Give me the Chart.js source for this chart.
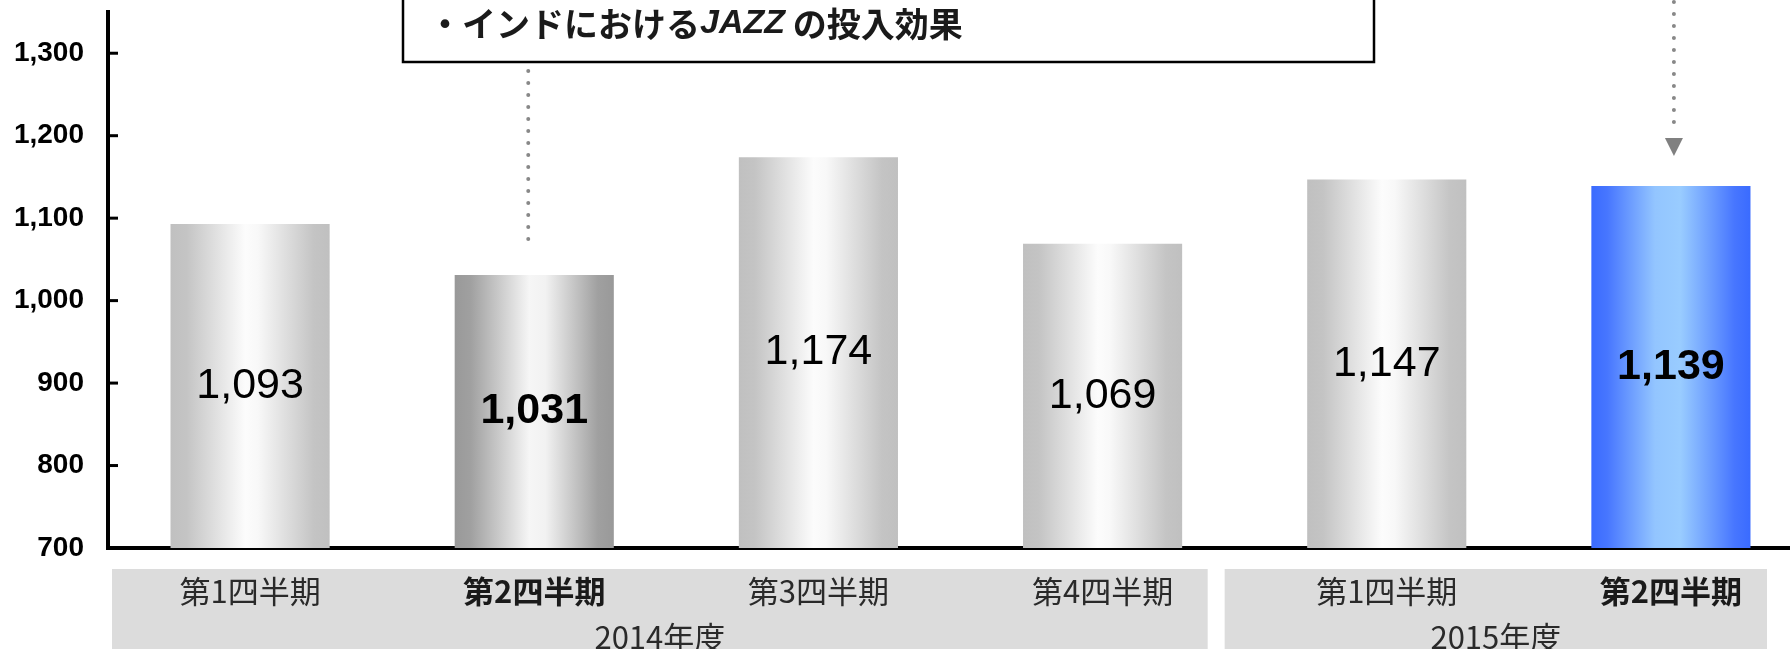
<!DOCTYPE html>
<html>
<head>
<meta charset="utf-8">
<script src="https://cdn.jsdelivr.net/npm/chart.js@4.4.1/dist/chart.umd.min.js"></script>
<style>
    html, body { margin: 0; padding: 0; background: #fff; overflow: hidden; }
    #wrap { position: absolute; left: 0; top: 0; width: 1816px; height: 649px; }
</style>
</head>
<body>
<div id="wrap"><canvas id="chart" width="1816" height="649"></canvas></div>
<script>
// data
const quarters = ['第1四半期', '第2四半期', '第3四半期', '第4四半期', '第1四半期', '第2四半期'];
const values = [1093, 1031, 1174, 1069, 1147, 1139];
const fiscalYears = ['2014年度', '2015年度'];
const yTicks = [700, 800, 900, 1000, 1100, 1200, 1300];
const calloutParts = ['・インドにおける', 'JAZZ', ' の投入効果'];
const emphasized = [1, 5];

const JP = '"Noto Sans CJK JP", "Noto Sans", sans-serif';
const LAT = '"Liberation Sans", Arial, sans-serif';
const BAR_PCT = 0.56;

// gradient stops for each bar look
const silver = [[0, '#c0c0c0'], [0.1, '#c4c4c4'], [0.47, '#fcfcfc'], [0.55, '#f8f8f8'], [0.9, '#c4c4c4'], [1, '#c0c0c0']];
const darkSilver = [[0, '#999999'], [0.1, '#a0a0a0'], [0.47, '#f6f6f6'], [0.57, '#f2f2f2'], [0.9, '#a0a0a0'], [1, '#999999']];
const blue = [[0, '#3a6bff'], [0.1, '#4776ff'], [0.4, '#93c5ff'], [0.56, '#99ccff'], [0.9, '#4776ff'], [1, '#3a6bff']];

function stopsFor(i) {
    if (i === 1) return darkSilver;
    if (i === 5) return blue;
    return silver;
}

function barFill(context) {
    const chart = context.chart;
    const area = chart.chartArea;
    const i = context.dataIndex;
    if (!area || i === undefined) return '#c0c0c0';
    const x = chart.scales.x;
    const cx = x.getPixelForValue(i);
    const half = (area.width / quarters.length) * BAR_PCT / 2;
    const g = chart.ctx.createLinearGradient(cx - half, 0, cx + half, 0);
    for (const [o, c] of stopsFor(i)) {
        g.addColorStop(o, c);
    }
    return g;
}

function dotted(ctx, x, y1, y2) {
    ctx.save();
    ctx.strokeStyle = '#888888';
    ctx.lineWidth = 4;
    ctx.lineCap = 'round';
    ctx.setLineDash([0, 12]);
    ctx.beginPath();
    ctx.moveTo(x, y1);
    ctx.lineTo(x, y2);
    ctx.stroke();
    ctx.restore();
}

const overlay = {
    id: 'overlay',
    beforeDraw(chart) {
        const ctx = chart.ctx;
        const x = chart.scales.x;
        const cw = (x.right - x.left) / quarters.length;
        const b = i => x.left + i * cw;
        ctx.save();
        ctx.fillStyle = '#dcdcdc';
        ctx.fillRect(b(0) + 4, 569, b(4) - 37 - (b(0) + 4), 80);
        ctx.fillRect(b(4) - 20, 569, b(6) - 46 - (b(4) - 20), 80);
        ctx.fillStyle = '#2a2a2a';
        ctx.font = '31px ' + JP;
        ctx.textAlign = 'center';
        ctx.textBaseline = 'middle';
        ctx.fillText(fiscalYears[0], (b(0) + 4 + b(4) - 37) / 2, 637);
        ctx.fillText(fiscalYears[1], (b(4) - 20 + b(6) - 46) / 2, 637);
        ctx.restore();
    },
    afterDatasetsDraw(chart) {
        const ctx = chart.ctx;
        const bottom = chart.chartArea.bottom;
        const meta = chart.getDatasetMeta(0);
        ctx.save();
        ctx.fillStyle = '#000';
        ctx.textAlign = 'center';
        ctx.textBaseline = 'middle';
        meta.data.forEach((bar, i) => {
            const p = bar.getProps(['x', 'y', 'base'], true);
            const base = Math.min(p.base, bottom);
            const bold = emphasized.includes(i) ? 'bold ' : '';
            ctx.font = bold + '43px ' + LAT;
            ctx.fillText(values[i].toLocaleString('en-US'), p.x, (p.y + base) / 2);
        });
        ctx.restore();
    },
    afterDraw(chart) {
        const ctx = chart.ctx;
        const area = chart.chartArea;
        const y = chart.scales.y;
        const x = chart.scales.x;

        // inward tick marks
        ctx.save();
        ctx.strokeStyle = '#000';
        ctx.lineWidth = 3;
        y.ticks.forEach(t => {
            const py = y.getPixelForValue(t.value);
            ctx.beginPath();
            ctx.moveTo(area.left, py);
            ctx.lineTo(area.left + 10, py);
            ctx.stroke();
        });
        ctx.restore();

        // callout box
        ctx.save();
        ctx.strokeStyle = '#000';
        ctx.lineWidth = 2.5;
        ctx.fillStyle = '#fff';
        ctx.fillRect(403, -10, 971, 72);
        ctx.strokeRect(403, -10, 971, 72);
        ctx.fillStyle = '#1a1a1a';
        ctx.textBaseline = 'middle';
        ctx.textAlign = 'left';
        let tx = 428;
        const fonts = ['bold 34px ' + JP, 'italic bold 34px ' + LAT, 'bold 34px ' + JP];
        calloutParts.forEach((s, k) => {
            ctx.font = fonts[k];
            ctx.fillText(s, tx, 24);
            tx += ctx.measureText(s).width;
        });
        ctx.restore();

        // pointer lines
        const x1 = x.getPixelForValue(1) - 6;
        dotted(ctx, x1, 71, 240);
        const x2 = x.getPixelForValue(5) + 3;
        dotted(ctx, x2, 2, 132);
        ctx.save();
        ctx.fillStyle = '#808080';
        ctx.beginPath();
        ctx.moveTo(x2 - 9, 138);
        ctx.lineTo(x2 + 9, 138);
        ctx.lineTo(x2, 156);
        ctx.closePath();
        ctx.fill();
        ctx.restore();
    }
};

new Chart(document.getElementById('chart'), {
    type: 'bar',
    data: {
        labels: quarters,
        datasets: [{
            data: values,
            backgroundColor: barFill,
            borderWidth: 0,
            barPercentage: BAR_PCT,
            categoryPercentage: 1
        }]
    },
    options: {
        responsive: false,
        animation: false,
        layout: { padding: { top: 12, right: 3, left: 0, bottom: 0 } },
        plugins: {
            legend: { display: false },
            tooltip: { enabled: false }
        },
        scales: {
            x: {
                grid: { display: false, drawTicks: false },
                border: { display: true, color: '#000', width: 4 },
                ticks: {
                    autoSkip: false,
                    maxRotation: 0,
                    padding: 25,
                    color: ctx => emphasized.includes(ctx.index) ? '#1a1a1a' : '#2a2a2a',
                    font: ctx => ({
                        family: JP,
                        size: 31,
                        weight: emphasized.includes(ctx.index) ? 'bold' : 'normal'
                    })
                },
                afterFit(scale) {
                    scale.height = 101;
                    scale.paddingLeft = 0;
                    scale.paddingRight = 0;
                }
            },
            y: {
                min: 700,
                max: 1350,
                grid: { display: false, drawTicks: false },
                border: { display: true, color: '#000', width: 4 },
                ticks: {
                    padding: 24,
                    color: '#000',
                    font: { family: LAT, size: 28, weight: 'bold' },
                    callback: v => v.toLocaleString('en-US')
                },
                afterBuildTicks(scale) {
                    scale.ticks = yTicks.map(v => ({ value: v }));
                },
                afterFit(scale) {
                    scale.width = 108;
                    scale.paddingTop = 0;
                    scale.paddingBottom = 0;
                }
            }
        }
    },
    plugins: [overlay]
});
</script>
</body>
</html>
